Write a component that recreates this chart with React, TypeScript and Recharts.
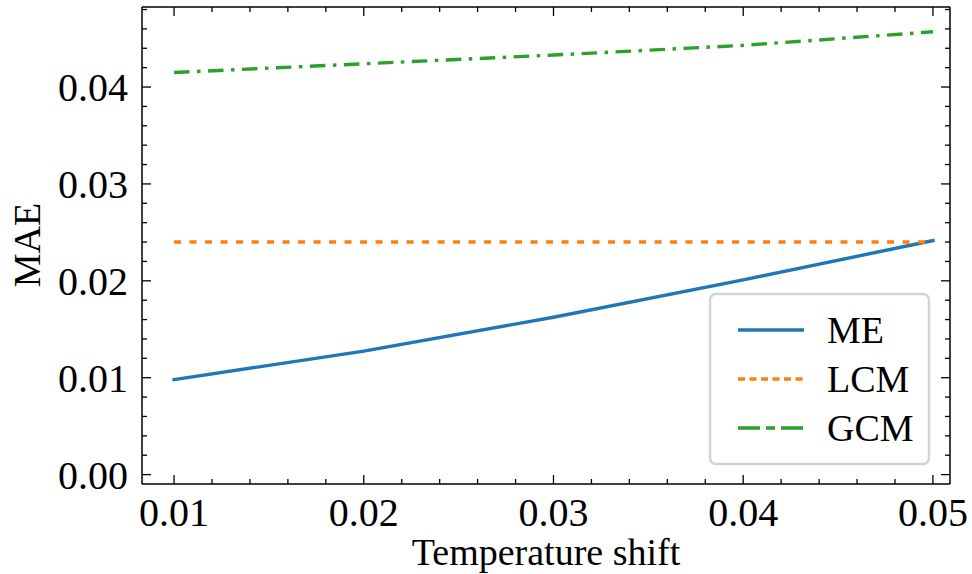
import React from 'react';
import { LineChart, Line, XAxis, YAxis, Legend, Label } from 'recharts';

// Temperature shift values (x) and the MAE of each method
const shifts = [0.01, 0.02, 0.03, 0.04, 0.05];
const meValues = [0.0098, 0.01275, 0.01624, 0.0201, 0.02415];
const lcmValues = [0.024, 0.024, 0.024, 0.024, 0.024];
const gcmValues = [0.0415, 0.0424, 0.0433, 0.0443, 0.0457];

// Axis ticks
const xMajorTicks = [0.01, 0.02, 0.03, 0.04, 0.05];
const xTickLabels = ['0.01', '0.02', '0.03', '0.04', '0.05'];
const xMinorTicks = [
  0.012, 0.014, 0.016, 0.018, 0.022, 0.024, 0.026, 0.028, 0.032, 0.034,
  0.036, 0.038, 0.042, 0.044, 0.046, 0.048,
];
const yMajorTicks = [0, 0.01, 0.02, 0.03, 0.04];
const yTickLabels = ['0.00', '0.01', '0.02', '0.03', '0.04'];
const yMinorTicks = [
  0.002, 0.004, 0.006, 0.008, 0.012, 0.014, 0.016, 0.018, 0.022, 0.024,
  0.026, 0.028, 0.032, 0.034, 0.036, 0.038, 0.042, 0.044, 0.046, 0.048,
];

const seriesNames = ['ME', 'LCM', 'GCM'];
const seriesColors = ['#1f77b4', '#ff7f0e', '#2ca02c'];
const seriesDashes = [undefined, '7 8.5', '15.5 7.5 3.5 7.5'];
const legendDashes = [undefined, '7 4.5', '22 6 9 6'];

const data = shifts.map((s, i) => ({
  shift: s,
  ME: meValues[i],
  LCM: lcmValues[i],
  GCM: gcmValues[i],
}));

const xTicks = [...xMajorTicks, ...xMinorTicks].sort((a, b) => a - b);
const yTicks = [...yMajorTicks, ...yMinorTicks].sort((a, b) => a - b);

const X_DOMAIN: [number, number] = [0.00831, 0.0509];
const Y_DOMAIN: [number, number] = [-0.00097, 0.04826];

const FONT = "'Liberation Serif', 'Times New Roman', serif";
const MAJOR_LEN = 9;
const MINOR_LEN = 5;
const TICK_W = 1.3;

const majorIndex = (v: number, majors: number[]) =>
  majors.findIndex((m) => Math.abs(m - v) < 1e-9);

const BottomTick = (props: any) => {
  const { x, y, payload } = props;
  const idx = majorIndex(payload.value, xMajorTicks);
  const len = idx >= 0 ? MAJOR_LEN : MINOR_LEN;
  return (
    <g>
      <line x1={x} x2={x} y1={y} y2={y - len} stroke="#000" strokeWidth={TICK_W} />
      {idx >= 0 && (
        <text x={x} y={y + 42} textAnchor="middle" fontSize={40} fontFamily={FONT} fill="#000">
          {xTickLabels[idx]}
        </text>
      )}
    </g>
  );
};

const TopTick = (props: any) => {
  const { x, y, payload } = props;
  const len = majorIndex(payload.value, xMajorTicks) >= 0 ? MAJOR_LEN : MINOR_LEN;
  return <line x1={x} x2={x} y1={y} y2={y + len} stroke="#000" strokeWidth={TICK_W} />;
};

const LeftTick = (props: any) => {
  const { x, y, payload } = props;
  const idx = majorIndex(payload.value, yMajorTicks);
  const len = idx >= 0 ? MAJOR_LEN : MINOR_LEN;
  return (
    <g>
      <line x1={x} x2={x + len} y1={y} y2={y} stroke="#000" strokeWidth={TICK_W} />
      {idx >= 0 && (
        <text x={x - 14} y={y + 14} textAnchor="end" fontSize={40} fontFamily={FONT} fill="#000">
          {yTickLabels[idx]}
        </text>
      )}
    </g>
  );
};

const RightTick = (props: any) => {
  const { x, y, payload } = props;
  const len = majorIndex(payload.value, yMajorTicks) >= 0 ? MAJOR_LEN : MINOR_LEN;
  return <line x1={x} x2={x - len} y1={y} y2={y} stroke="#000" strokeWidth={TICK_W} />;
};

const LegendBox = () => {
  const left = 710;
  const top = 294;
  const rowY = [330, 379, 428];
  return (
    <svg
      width={972}
      height={574}
      style={{ position: 'absolute', left: 0, top: 0, overflow: 'visible', pointerEvents: 'none' }}
    >
      <rect
        x={left}
        y={top}
        width={219}
        height={170}
        rx={6}
        ry={6}
        fill="#ffffff"
        fillOpacity={0.8}
        stroke="#d4d4d4"
        strokeWidth={2.5}
      />
      {seriesNames.map((name, i) => (
        <g key={name}>
          <line
            x1={738}
            x2={804}
            y1={rowY[i]}
            y2={rowY[i]}
            stroke={seriesColors[i]}
            strokeWidth={3.4}
            strokeDasharray={legendDashes[i]}
          />
          <text x={827} y={rowY[i] + 13} fontSize={38} fontFamily={FONT} fill="#000">
            {name}
          </text>
        </g>
      ))}
    </svg>
  );
};

export default function App() {
  return (
    <div style={{ position: 'absolute', left: 0, top: 0, background: '#fff' }}>
      <LineChart width={972} height={574} data={data} margin={{ top: 6, right: 21, bottom: 0, left: 0 }}>
        <XAxis
          dataKey="shift"
          type="number"
          domain={X_DOMAIN}
          allowDataOverflow
          ticks={xTicks}
          interval={0}
          tickSize={0}
          tickMargin={0}
          tickLine={false}
          tick={BottomTick}
          height={90}
          axisLine={{ stroke: '#000', strokeWidth: 1.5 }}
        >
          <Label
            content={() => (
              <text x={546} y={565} textAnchor="middle" fontSize={38} fontFamily={FONT} fill="#000">
                Temperature shift
              </text>
            )}
          />
        </XAxis>
        <XAxis
          xAxisId="top"
          dataKey="shift"
          orientation="top"
          type="number"
          domain={X_DOMAIN}
          allowDataOverflow
          ticks={xTicks}
          interval={0}
          tickSize={0}
          tickMargin={0}
          tickLine={false}
          tick={TopTick}
          height={1}
          axisLine={{ stroke: '#000', strokeWidth: 1.5 }}
        />
        <YAxis
          type="number"
          domain={Y_DOMAIN}
          allowDataOverflow
          ticks={yTicks}
          interval={0}
          tickSize={0}
          tickMargin={0}
          tickLine={false}
          tick={LeftTick}
          width={142}
          axisLine={{ stroke: '#000', strokeWidth: 1.5 }}
        >
          <Label
            content={() => (
              <text
                x={0}
                y={0}
                transform="translate(40, 245) rotate(-90)"
                textAnchor="middle"
                fontSize={38}
                fontFamily={FONT}
                fill="#000"
              >
                MAE
              </text>
            )}
          />
        </YAxis>
        <YAxis
          yAxisId="right"
          orientation="right"
          type="number"
          domain={Y_DOMAIN}
          allowDataOverflow
          ticks={yTicks}
          interval={0}
          tickSize={0}
          tickMargin={0}
          tickLine={false}
          tick={RightTick}
          width={1}
          axisLine={{ stroke: '#000', strokeWidth: 1.5 }}
        />
        <Legend
          content={() => <LegendBox />}
          wrapperStyle={{ position: 'absolute', left: 0, top: 0, width: 0, height: 0, overflow: 'visible' }}
        />
        {/* invisible series bound to the top and right frame axes */}
        <Line
          xAxisId="top"
          yAxisId="right"
          dataKey="LCM"
          stroke="none"
          dot={false}
          activeDot={false}
          legendType="none"
          isAnimationActive={false}
        />
        <Line
          dataKey="ME"
          name={seriesNames[0]}
          stroke={seriesColors[0]}
          strokeWidth={3.4}
          strokeLinecap="square"
          dot={false}
          isAnimationActive={false}
        />
        <Line
          dataKey="LCM"
          name={seriesNames[1]}
          stroke={seriesColors[1]}
          strokeWidth={3.4}
          strokeDasharray={seriesDashes[1]}
          dot={false}
          isAnimationActive={false}
        />
        <Line
          dataKey="GCM"
          name={seriesNames[2]}
          stroke={seriesColors[2]}
          strokeWidth={3.4}
          strokeDasharray={seriesDashes[2]}
          dot={false}
          isAnimationActive={false}
        />
      </LineChart>
    </div>
  );
}
